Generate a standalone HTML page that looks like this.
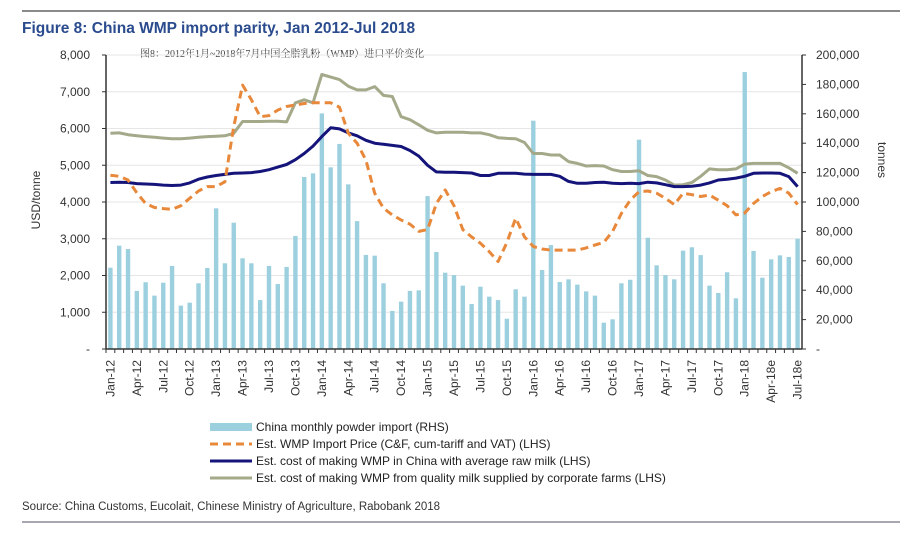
<!DOCTYPE html>
<html><head><meta charset="utf-8">
<style>
body{margin:0;background:#fff;}
#wrap{position:relative;width:900px;height:535px;overflow:hidden;font-family:"Liberation Sans","Noto Sans CJK SC",sans-serif;}
svg text{font-family:"Liberation Sans","Noto Sans CJK SC",sans-serif;}
</style></head>
<body>
<div id="wrap">
<svg id="chart" width="900" height="535" viewBox="0 0 900 535" xmlns="http://www.w3.org/2000/svg">
<line x1="22" y1="11" x2="900" y2="11" stroke="#8a8a8a" stroke-width="2"/>
<text x="22" y="33" font-size="15.5" font-weight="bold" fill="#2a4b8d">Figure 8: China WMP import parity, Jan 2012-Jul 2018</text>
<text x="140" y="57" font-size="10" fill="#444" style="font-family:'Liberation Serif','Noto Serif CJK SC',serif">图8：2012年1月~2018年7月中国全脂乳粉（WMP）进口平价变化</text>
<text transform="translate(40,200) rotate(-90)" text-anchor="middle" font-size="12" fill="#333">USD/tonne</text>
<text transform="translate(878,160) rotate(90)" text-anchor="middle" font-size="12" fill="#333">tonnes</text>
<g id="grid"></g><g id="bars"></g><g id="lines"></g><g id="axes"></g>
<g>
<rect x="210" y="423" width="42" height="8" fill="#9dd0df"/>
<text x="256" y="431" font-size="12" fill="#222">China monthly powder import (RHS)</text>
<line x1="210" y1="444" x2="252" y2="444" stroke="#e8883a" stroke-width="3" stroke-dasharray="8,5"/>
<text x="256" y="448" font-size="12" fill="#222">Est. WMP Import Price (C&amp;F, cum-tariff and VAT) (LHS)</text>
<line x1="210" y1="461" x2="252" y2="461" stroke="#14147a" stroke-width="3"/>
<text x="256" y="465" font-size="12" fill="#222">Est. cost of making WMP in China with average raw milk (LHS)</text>
<line x1="210" y1="478" x2="252" y2="478" stroke="#a4a98a" stroke-width="3"/>
<text x="256" y="482" font-size="12" fill="#222">Est. cost of making WMP from quality milk supplied by corporate farms (LHS)</text>
</g>
<text x="22" y="510" font-size="11.5" fill="#333">Source: China Customs,  Eucolait, Chinese Ministry of Agriculture, Rabobank 2018</text>
<line x1="22" y1="522" x2="900" y2="522" stroke="#8a8a9a" stroke-width="1.5"/>
</svg>
</div>
<script>
const months=["Jan","Feb","Mar","Apr","May","Jun","Jul","Aug","Sep","Oct","Nov","Dec"];
const importTonnes=[55.3,70.3,68,39.5,45.4,36.3,45.1,56.5,29.5,31.5,44.7,55.1,95.7,58.3,85.9,61.7,58.3,33.3,56.5,44.2,55.8,76.9,117,119.5,160.3,123.6,139.5,112,87,64,63.5,44.7,25.9,32.2,39.5,39.9,104,66,51.9,50.3,43.1,30.6,42.4,35.6,33.3,20.6,40.6,35.6,155.3,53.7,70.7,45.6,47.4,43.8,39.2,36.3,17.9,20.2,44.7,47.1,142.4,75.7,56.9,50.3,47.4,66.9,69.2,63.9,43.1,38.1,52.2,34.5,188.4,66.7,48.5,61,63.7,62.6,75];
const importPrice=[4730,4700,4600,4250,3960,3850,3820,3800,3900,4100,4300,4420,4420,4550,6050,7180,6780,6320,6350,6500,6600,6640,6680,6700,6700,6700,6580,5870,5600,5140,4240,3830,3650,3510,3400,3200,3250,3960,4330,3900,3250,3050,2880,2650,2380,2900,3560,3050,2790,2720,2690,2690,2690,2690,2750,2830,2900,3200,3690,4050,4280,4300,4240,4100,3930,4240,4200,4150,4190,4050,3900,3650,3700,3960,4150,4280,4370,4240,3930];
const avgMilkCost=[4530,4540,4530,4500,4490,4480,4460,4450,4460,4520,4620,4680,4720,4750,4780,4790,4800,4830,4880,4950,5020,5150,5320,5520,5780,6020,5990,5880,5800,5680,5600,5570,5540,5510,5400,5250,5000,4820,4810,4810,4800,4790,4720,4720,4780,4780,4780,4760,4750,4750,4750,4700,4560,4510,4510,4530,4540,4510,4500,4510,4500,4540,4520,4470,4420,4420,4430,4460,4520,4600,4620,4650,4700,4780,4790,4790,4780,4690,4420];
const corporateCost=[5870,5880,5830,5800,5780,5760,5740,5720,5720,5740,5760,5780,5790,5800,5870,6190,6190,6190,6200,6200,6180,6700,6780,6700,7470,7400,7330,7150,7050,7050,7140,6900,6870,6320,6240,6100,5950,5880,5900,5900,5900,5880,5880,5830,5750,5730,5720,5620,5320,5320,5280,5280,5100,5050,4980,4990,4980,4880,4830,4830,4850,4720,4690,4600,4460,4470,4530,4700,4900,4880,4880,4900,5030,5050,5050,5050,5050,4930,4780];
const leftTicks=[0,1000,2000,3000,4000,5000,6000,7000,8000];
const rightTicks=[0,20,40,60,80,100,120,140,160,180,200];

const NS="http://www.w3.org/2000/svg";
const X0=106,X1=802,Y0=349,Y1=55,N=importTonnes.length;
const slot=(X1-X0)/N;
const xc=i=>X0+(i+0.5)*slot;
const yL=v=>Y0-(v/8000)*(Y0-Y1);
const yR=v=>Y0-(v/200)*(Y0-Y1);
function mk(tag,attrs,parent){const e=document.createElementNS(NS,tag);for(const k in attrs)e.setAttribute(k,attrs[k]);parent.appendChild(e);return e;}
const grid=document.getElementById('grid'),bars=document.getElementById('bars'),lines=document.getElementById('lines'),axes=document.getElementById('axes');
leftTicks.forEach(t=>{
  if(t>0){const g=mk('line',{x1:X0,x2:X1,y1:yL(t),y2:yL(t),stroke:'#e6e6e6','stroke-width':1},grid);
  
  }
  const tx=mk('text',{x:90,y:yL(t)+4,'text-anchor':'end','font-size':12,fill:'#333'},axes);
  tx.textContent=t===0?'-':t.toLocaleString('en-US');
  
  
  const tk=mk('line',{x1:X0-4,x2:X0,y1:yL(t),y2:yL(t),stroke:'#333'},axes);
  
  
});
rightTicks.forEach(t=>{
  const tx=mk('text',{x:816,y:yR(t)+4,'font-size':12,fill:'#333'},axes);
  tx.textContent=t===0?'-':(t*1000).toLocaleString('en-US');
  
  
  const tk=mk('line',{x1:X1,x2:X1+4,y1:yR(t),y2:yR(t),stroke:'#333'},axes);
  
  
});
importTonnes.forEach((v,i)=>{
  const r=mk('rect',{x:xc(i)-2.2,y:yR(v),width:4.4,height:Y0-yR(v),fill:'#9dd0df'},bars);
  
  
});
function path(arr){return arr.map((v,i)=>(i?'L':'M')+xc(i).toFixed(1)+','+yL(v).toFixed(1)).join(' ');}
const pg=mk('path',{d:path(corporateCost),fill:'none',stroke:'#a4a98a','stroke-width':3,'stroke-linejoin':'round'},lines);


const pb=mk('path',{d:path(avgMilkCost),fill:'none',stroke:'#14147a','stroke-width':3,'stroke-linejoin':'round'},lines);


const po=mk('path',{d:path(importPrice),fill:'none',stroke:'#e8883a','stroke-width':3,'stroke-dasharray':'8,5','stroke-linejoin':'round'},lines);


const al=mk('line',{x1:X0,x2:X0,y1:Y1,y2:Y0,stroke:'#333','stroke-width':1.5},axes);


const ar=mk('line',{x1:X1,x2:X1,y1:Y1,y2:Y0,stroke:'#333','stroke-width':1.5},axes);


const ab=mk('line',{x1:X0,x2:X1,y1:Y0,y2:Y0,stroke:'#333','stroke-width':1.5},axes);


for(let i=0;i<N;i++){
  const tk=mk('line',{x1:X0+i*slot,x2:X0+i*slot,y1:Y0,y2:Y0+4,stroke:'#333'},axes);
  
  
  if(i%3===0){
    const yr=12+Math.floor(i/12);
    let lab=months[i%12]+'-'+yr;if(i===N-1)lab+='e';if(i===N-4)lab+='e';
    const tx=mk('text',{transform:`translate(${xc(i)+4},360) rotate(-90)`,'text-anchor':'end','font-size':12,fill:'#333'},axes);
    tx.textContent=lab;
    
    
  }
}
</script>
</body></html>
